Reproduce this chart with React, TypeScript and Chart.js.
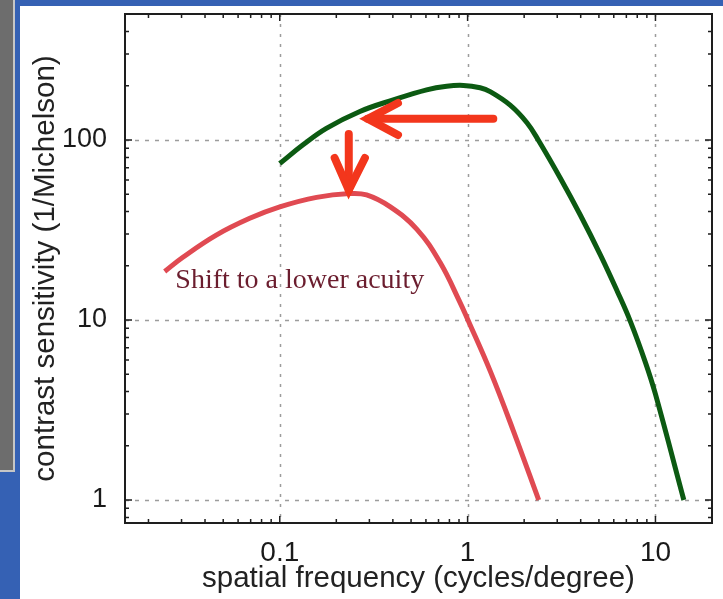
import React, { useEffect, useRef } from "react";
import { Chart, registerables } from "chart.js";
Chart.register(...registerables);

// ---- data ----
const greenFreq = [0.1, 0.133, 0.177, 0.267, 0.402, 0.605, 0.774, 0.95, 1.166, 1.318, 1.685, 2.07, 2.377, 3.113, 3.98, 5.09, 6.25, 7.36, 8.85, 10, 14.16];
const greenSens = [74, 94, 116, 144, 167, 190, 199, 201, 195, 185.5, 156, 124.6, 100, 61.5, 38.3, 23.0, 14.5, 9.8, 5.8, 3.87, 1];
const redFreq = [0.0244, 0.0305, 0.0459, 0.0692, 0.1, 0.157, 0.236, 0.29, 0.386, 0.536, 0.713, 0.912, 1.0, 1.32, 1.75, 2.39];
const redSens = [18.6, 22.3, 29.6, 36.7, 42.5, 48.0, 50.4, 49.5, 42.6, 32.0, 20.9, 12.5, 10.1, 5.2, 2.43, 1];

const xTickValues = [0.1, 1, 10];
const xTickLabels = ["0.1", "1", "10"];
const yTickValues = [1, 10, 100];
const yTickLabels = ["1", "10", "100"];

const xTitle = "spatial frequency (cycles/degree)";
const yTitle = "contrast sensitivity (1/Michelson)";
const noteText = "Shift to a lower acuity";
const notePos = [0.0278, 15.1];

// arrows: [freq, sens] pairs — shaft start, tip, barb1, barb2
const arrowLeft = [[1.37, 131], [0.294, 131], [0.426, 160.5], [0.426, 106.6]];
const arrowDown = [[0.233, 108], [0.233, 52.7], [0.196, 79.4], [0.284, 79.4]];

const BLUE = "#3561b4";
const SANS = "'Liberation Sans', Arial, Helvetica, sans-serif";

function matchLabel(v: number, vals: number[], labels: string[]) {
  for (let i = 0; i < vals.length; i++) {
    if (Math.abs(Math.log10(v) - Math.log10(vals[i])) < 1e-6) return labels[i];
  }
  return "";
}

const framePlugin = {
  id: "framePlugin",
  beforeDatasetsDraw(chart: any) {
    const { ctx, chartArea: a, scales } = chart;
    const xs = scales.x, ys = scales.y;
    ctx.save();
    ctx.strokeStyle = "#9c9c9c";
    ctx.lineWidth = 1.5;
    ctx.setLineDash([3, 7]);
    xTickValues.forEach((v) => {
      const px = Math.round(xs.getPixelForValue(v)) + 0.5;
      ctx.beginPath();
      ctx.moveTo(px, a.top);
      ctx.lineTo(px, a.bottom);
      ctx.stroke();
    });
    ctx.setLineDash([4, 6]);
    yTickValues.forEach((v) => {
      const py = Math.round(ys.getPixelForValue(v)) + 0.5;
      ctx.beginPath();
      ctx.moveTo(a.left, py);
      ctx.lineTo(a.right, py);
      ctx.stroke();
    });
    ctx.restore();
  },
  afterDatasetsDraw(chart: any) {
    const { ctx, chartArea: a, scales } = chart;
    const xs = scales.x, ys = scales.y;
    ctx.save();
    // arrows
    ctx.strokeStyle = "#f3361c";
    ctx.lineWidth = 8;
    ctx.lineCap = "round";
    ctx.lineJoin = "miter";
    ctx.miterLimit = 10;
    [arrowLeft, arrowDown].forEach((ar) => {
      const p = ar.map(([f, s]) => [xs.getPixelForValue(f), ys.getPixelForValue(s)]);
      ctx.beginPath();
      ctx.moveTo(p[0][0], p[0][1]);
      ctx.lineTo(p[1][0], p[1][1]);
      ctx.stroke();
      ctx.beginPath();
      ctx.moveTo(p[2][0], p[2][1]);
      ctx.lineTo(p[1][0], p[1][1]);
      ctx.lineTo(p[3][0], p[3][1]);
      ctx.stroke();
    });
    // note text
    ctx.fillStyle = "#6b1d2e";
    ctx.font = "28px 'Liberation Serif', 'Times New Roman', serif";
    ctx.textAlign = "left";
    ctx.textBaseline = "alphabetic";
    ctx.fillText(noteText, xs.getPixelForValue(notePos[0]), ys.getPixelForValue(notePos[1]));

    // frame
    ctx.strokeStyle = "#1e1e1e";
    ctx.lineWidth = 2;
    ctx.setLineDash([]);
    ctx.lineCap = "butt";
    ctx.strokeRect(a.left, a.top, a.right - a.left, a.bottom - a.top);
    // inward ticks
    ctx.lineWidth = 1.5;
    const xmin = xs.min, xmax = xs.max, ymin = ys.min, ymax = ys.max;
    for (let e = -3; e <= 3; e++) {
      for (let k = 1; k <= 9; k++) {
        const v = k * Math.pow(10, e);
        const len = k === 1 ? 7 : 4;
        if (v > xmin && v < xmax) {
          const px = xs.getPixelForValue(v);
          ctx.beginPath();
          ctx.moveTo(px, a.bottom);
          ctx.lineTo(px, a.bottom - len);
          ctx.moveTo(px, a.top);
          ctx.lineTo(px, a.top + len);
          ctx.stroke();
        }
        if (v > ymin && v < ymax) {
          const py = ys.getPixelForValue(v);
          ctx.beginPath();
          ctx.moveTo(a.left, py);
          ctx.lineTo(a.left + len, py);
          ctx.moveTo(a.right, py);
          ctx.lineTo(a.right - len, py);
          ctx.stroke();
        }
      }
    }
    ctx.restore();
  },
};

export default function App() {
  const ref = useRef<HTMLCanvasElement | null>(null);
  useEffect(() => {
    document.body.style.margin = "0";
    if (!ref.current) return;
    const chart = new Chart(ref.current, {
      type: "line",
      data: {
        datasets: [
          {
            label: "normal",
            data: greenFreq.map((f, i) => ({ x: f, y: greenSens[i] })),
            borderColor: "#0c5a12",
            borderWidth: 5,
            pointRadius: 0,
            tension: 0.4,
            fill: false,
          },
          {
            label: "lower acuity",
            data: redFreq.map((f, i) => ({ x: f, y: redSens[i] })),
            borderColor: "#e04a52",
            borderWidth: 5,
            pointRadius: 0,
            tension: 0.4,
            fill: false,
          },
        ],
      },
      options: {
        animation: false,
        responsive: false,
        devicePixelRatio: 1,
        layout: { padding: { top: 8, right: 11, left: 0, bottom: 0 } },
        plugins: { legend: { display: false }, tooltip: { enabled: false } },
        scales: {
          x: {
            type: "logarithmic",
            position: "bottom",
            bounds: "data",
            min: 0.015,
            max: 20,
            grid: { display: false, drawTicks: false },
            border: { display: false },
            ticks: {
              autoSkip: false,
              maxRotation: 0,
              padding: 13,
              color: "#1a1a1a",
              font: { family: SANS, size: 28 },
              callback: (v: any) => matchLabel(Number(v), xTickValues, xTickLabels),
            },
            title: {
              display: true,
              text: xTitle,
              color: "#222",
              font: { family: SANS, size: 29.5 },
              padding: { top: 0, bottom: 2 },
            },
            afterFit: (s: any) => {
              s.height = 76;
              s.paddingLeft = 0;
              s.paddingRight = 0;
            },
          },
          y: {
            type: "logarithmic",
            position: "left",
            bounds: "data",
            min: 0.745,
            max: 501,
            grid: { display: false, drawTicks: false },
            border: { display: false },
            ticks: {
              autoSkip: false,
              padding: 18,
              color: "#1a1a1a",
              font: { family: SANS, size: 27 },
              callback: (v: any) => matchLabel(Number(v), yTickValues, yTickLabels),
            },
            title: {
              display: true,
              text: yTitle,
              color: "#222",
              font: { family: SANS, size: 29.5 },
              padding: { top: 8, bottom: 0 },
            },
            afterFit: (s: any) => {
              s.width = 105;
              s.paddingTop = 0;
              s.paddingBottom = 0;
            },
          },
        },
      },
      plugins: [framePlugin],
    } as any);
    return () => chart.destroy();
  }, []);

  return (
    <div style={{ position: "absolute", left: 0, top: 0, width: 723, height: 599, background: "#fff", overflow: "hidden" }}>
      <div style={{ position: "absolute", left: 0, top: 0, width: 723, height: 6, background: BLUE }} />
      <div style={{ position: "absolute", left: 0, top: 0, width: 20, height: 599, background: BLUE }} />
      <div
        style={{
          position: "absolute",
          left: 0,
          top: 0,
          width: 13,
          height: 470,
          background: "#6d6d6d",
          borderRight: "2px solid #c6c6c6",
          borderBottom: "2px solid #c6c6c6",
        }}
      />
      <canvas ref={ref} width={703} height={593} style={{ position: "absolute", left: 20, top: 6, width: 703, height: 593 }} />
    </div>
  );
}
